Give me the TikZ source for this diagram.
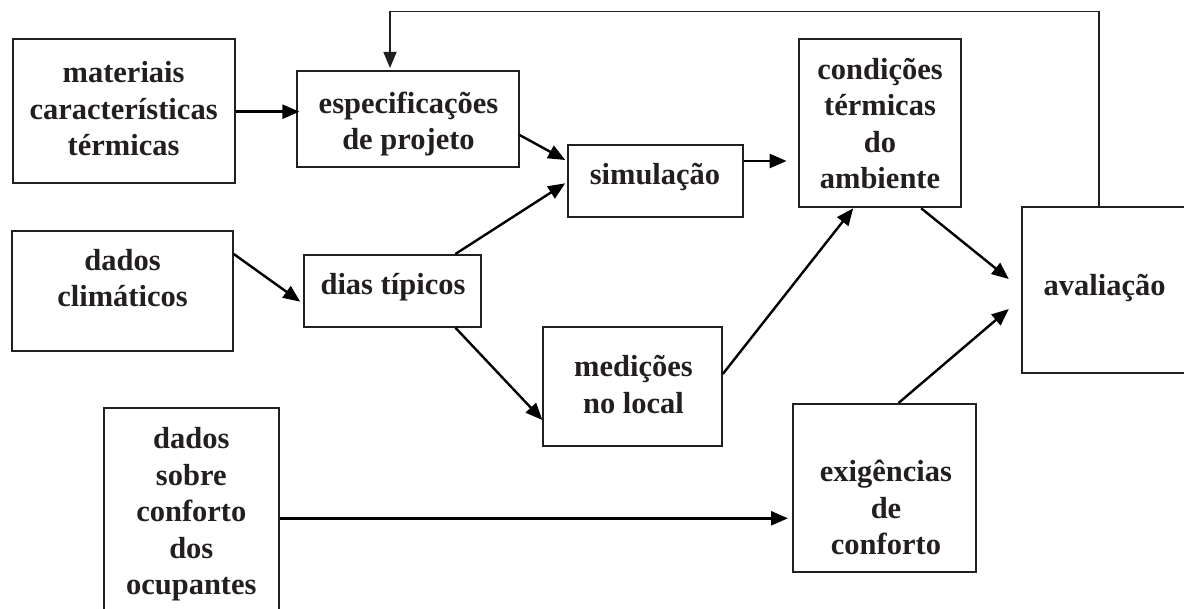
\documentclass[tikz,border=0pt]{standalone}
\usepackage{fontspec}
\usetikzlibrary{arrows.meta,calc}
\newfontfamily\tnr{Liberation Serif}
\definecolor{ink}{HTML}{231F20}
\tikzset{
  box/.style={draw=ink, line width=2pt, inner sep=0pt},
  txt/.style={font={\tnr\bfseries\fontsize{30.5}{36.5}\selectfont}, text=ink, align=center, inner sep=0pt},
  arr/.style={draw=black, line width=2.4pt, -{Triangle[length=17pt,width=14pt]}},
  fb/.style={draw=ink, line width=1.5pt, -{Triangle[length=16pt,width=13pt]}}
}
\begin{document}
\begin{tikzpicture}[x=1pt,y=-1pt]
\useasboundingbox (0,0) rectangle (1184,609);
% boxes
\node[box, minimum width=222pt, minimum height=144pt] (mat) at (123.6,111.3) {};
\node[box, minimum width=221.2pt, minimum height=96pt] (spec) at (408,119) {};
\node[box, minimum width=175.1pt, minimum height=72.3pt] (sim) at (655.75,181.15) {};
\node[box, minimum width=162.6pt, minimum height=168pt] (cond) at (879.9,123.3) {};
\node[box, minimum width=221.2pt, minimum height=120pt] (clim) at (122.1,290.7) {};
\node[box, minimum width=177.1pt, minimum height=71.7pt] (dias) at (392.85,290.85) {};
\node[box, minimum width=178.4pt, minimum height=119.3pt] (med) at (632.6,386.35) {};
\node[box, minimum width=168.2pt, minimum height=166.3pt] (aval) at (1105.9,289.85) {};
\node[box, minimum width=175.3pt, minimum height=211.7pt] (conf) at (191.35,514.15) {};
\node[box, minimum width=183pt, minimum height=168pt] (exig) at (884.5,488) {};
% texts
\node[txt] (matT) at (123.6,112) {\strut materiais\\\strut características\\\strut térmicas};
\node[txt] (specT) at (408.5,124) {\strut especificações\\\strut de projeto};
\node[txt] (simT) at (655,177.7) {\strut simulação};
\node[txt] (condT) at (880,126.7) {\strut condições\\\strut térmicas\\\strut do\\\strut ambiente};
\node[txt] (climT) at (122.5,281) {\strut dados\\\strut climáticos};
\node[txt] (diasT) at (393,287.7) {\strut dias típicos};
\node[txt] (medT) at (633.5,387.6) {\strut medições\\\strut no local};
\node[txt] (avalT) at (1104.7,288.7) {\strut avaliação};
\node[txt] (confT) at (191.3,514.2) {\strut dados\\\strut sobre\\\strut conforto\\\strut dos\\\strut ocupantes};
\node[txt] (exigT) at (886,510.9) {\strut exigências\\\strut de\\\strut conforto};
% connectors
\draw[arr] (mat.east |- 0,111.7) -- ($(spec.west |- 0,111.7)+(3,0)$);
\draw[arr] (spec.east |- 0,135) -- ($(sim.west |- 0,160)+(-2,0)$);
\draw[arr] (dias.north -| 455.4,0) -- ($(sim.west |- 0,183.3)+(-2,0)$);
\draw[arr] (clim.east |- 0,254) -- ($(dias.west |- 0,301.7)+(-3,0)$);
\draw[arr] (dias.south -| 455.4,0) -- (med.west |- 0,420);
\draw[arr] (sim.east |- 0,161) -- ($(cond.west |- 0,161)+(-11,0)$);
\draw[arr] (med.east |- 0,374) -- (cond.south -| 853.2,0);
\draw[arr] (cond.south -| 921.2,0) -- ($(aval.west |- 0,279)+(-12,0)$);
\draw[arr] (exig.north -| 898.5,0) -- ($(aval.west |- 0,309)+(-12,0)$);
\draw[arr] (conf.east |- 0,518.3) -- ($(exig.west |- 0,518.3)+(-4,0)$);
\coordinate (fbtop) at (390,11.7);
\draw[fb] (aval.north -| 1099,0) |- (fbtop) -- ($(spec.north -| 390,0)+(0,-2)$);
\end{tikzpicture}
\end{document}
